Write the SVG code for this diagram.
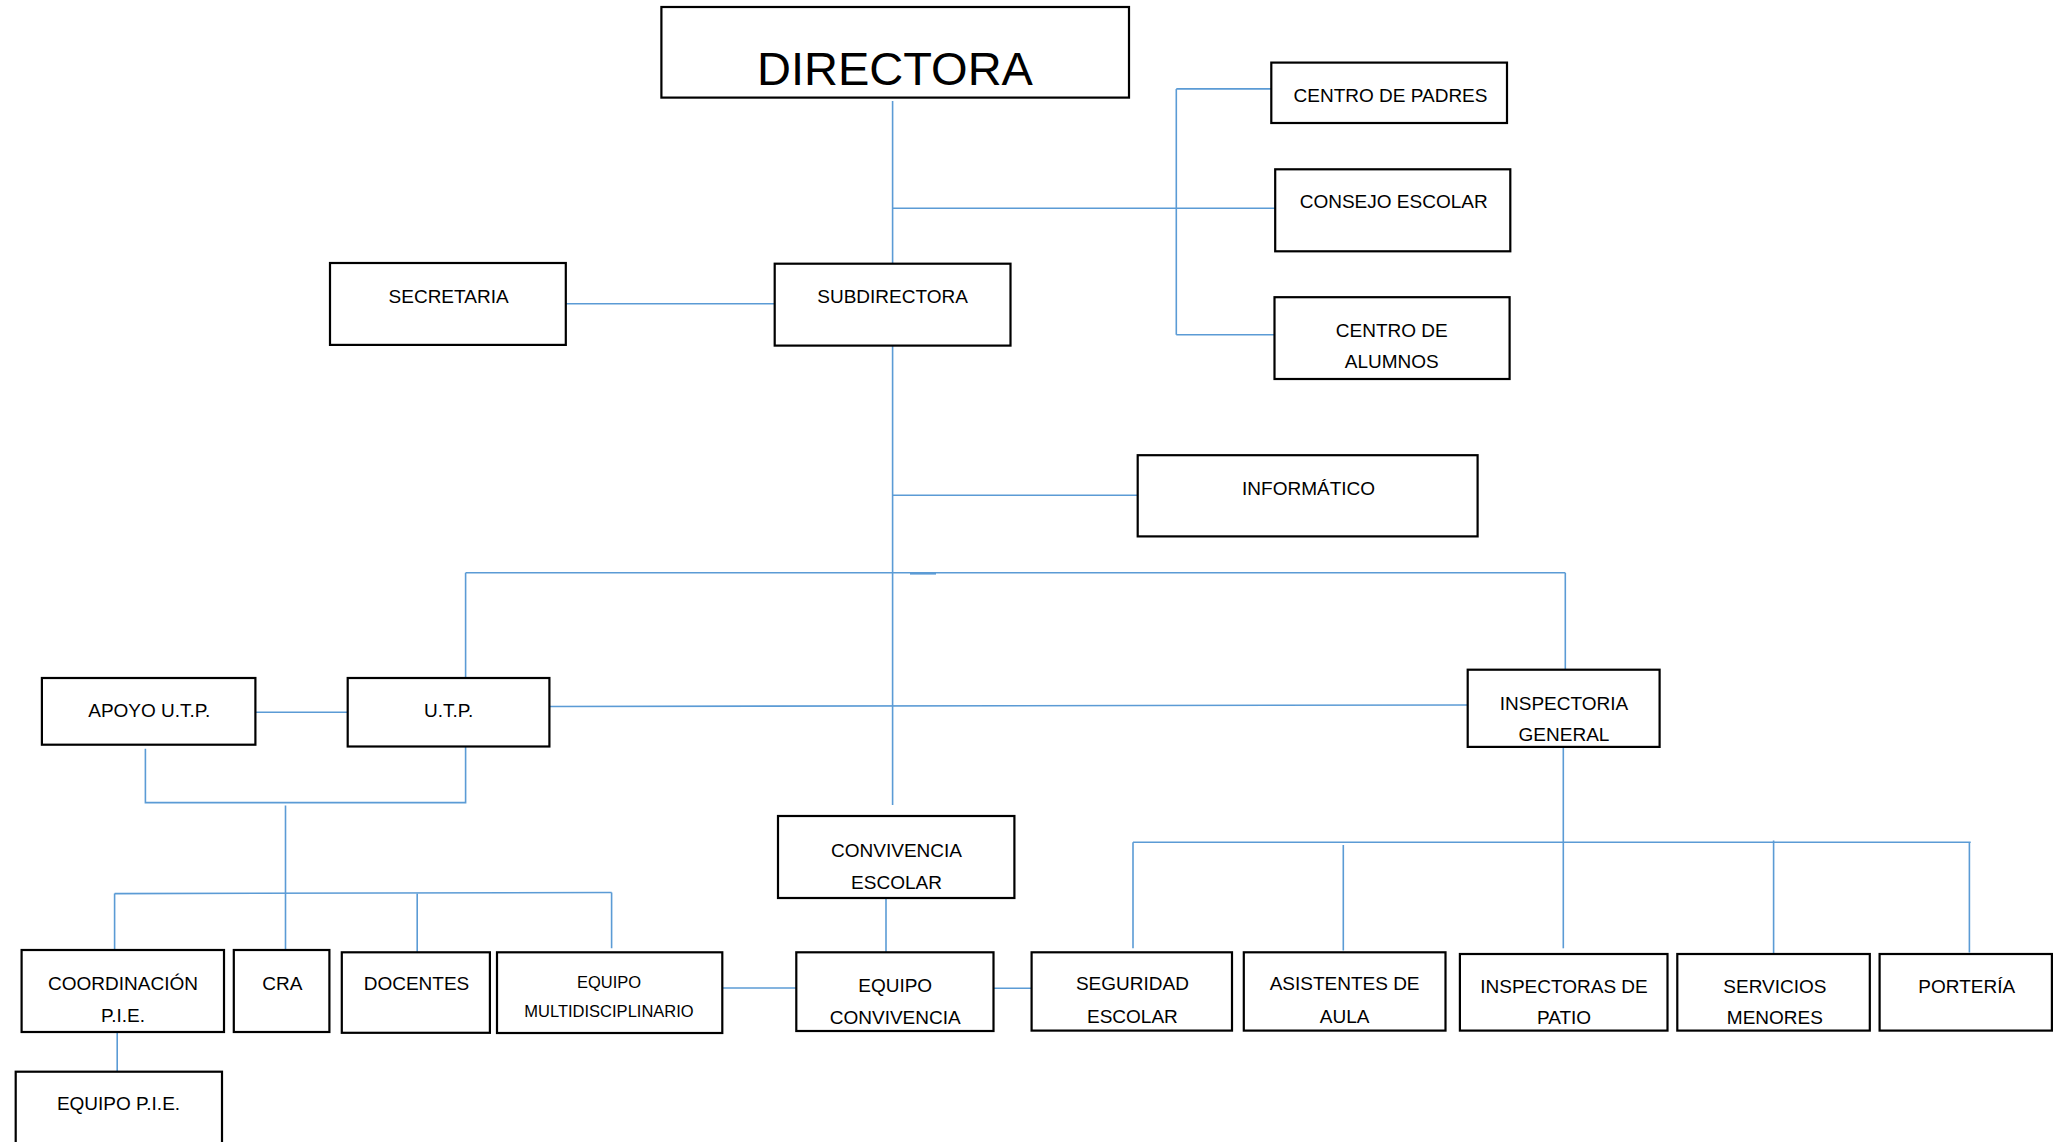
<svg xmlns="http://www.w3.org/2000/svg" width="2054" height="1142" viewBox="0 0 2054 1142">
<style>
.box{fill:#fff;stroke:#000;stroke-width:2.2}
.t{font-family:"Liberation Sans",Arial,sans-serif;font-size:19px;fill:#000;text-anchor:middle}
.s{font-size:16.5px}
.big{font-size:47px}
.c{stroke:#5B9BD5;stroke-width:1.6;fill:none}
</style>
<rect width="2054" height="1142" fill="#fff"/>
<g id="connectors" class="c">
<path d="M892.6 101V264"/>
<path d="M892.6 208.3H1275"/>
<path d="M1176.3 88.9V334.7M1176.3 88.9H1271M1176.3 334.7H1274.5"/>
<path d="M566 303.7H775"/>
<path d="M892.6 346V805"/>
<path d="M892.6 495.3H1138"/>
<path d="M465.6 572.8H1565.3"/>
<path d="M910 573.8H936"/>
<path d="M465.6 572.8V678"/>
<path d="M1565.3 572.8V669.7"/>
<path d="M255.4 712.3H347.7"/>
<path d="M549.4 706.5L1467.7 705"/>
<path d="M145.4 748.7V802.6H465.6V746.5"/>
<path d="M285.5 805.5V893.6"/>
<path d="M114.6 893.6L611.6 892.5"/>
<path d="M114.6 893.6V950M285.5 893.6V950M417.2 893.6V952M611.6 892.5V948.3"/>
<path d="M117.2 1033V1071.7"/>
<path d="M722.3 988H796.3"/>
<path d="M886 898V952"/>
<path d="M993.5 988.3H1031.6"/>
<path d="M1563.3 747V948.3"/>
<path d="M1133 842.3H1970.7"/>
<path d="M1133 842.3V948.3M1343.3 844.9V950.5M1773.6 840.5V953.4M1969.4 842.3V952.6"/>
</g>
<g id="directora"><rect class="box" x="661.4" y="7" width="467.6" height="90.6"/><text class="t big" x="895" y="84.5">DIRECTORA</text></g>
<g id="centro-padres"><rect class="box" x="1271.3" y="62.6" width="235.7" height="60.4"/><text class="t" x="1390.5" y="102">CENTRO DE PADRES</text></g>
<g id="consejo-escolar"><rect class="box" x="1275.2" y="169.3" width="235.1" height="82"/><text class="t" x="1393.7" y="207.6">CONSEJO ESCOLAR</text></g>
<g id="centro-alumnos"><rect class="box" x="1274.5" y="297.2" width="235.1" height="81.8"/><text class="t" x="1391.8" y="336.9">CENTRO DE</text><text class="t" x="1391.8" y="367.8">ALUMNOS</text></g>
<g id="secretaria"><rect class="box" x="330" y="263" width="235.8" height="81.9"/><text class="t" x="448.6" y="303">SECRETARIA</text></g>
<g id="subdirectora"><rect class="box" x="774.7" y="263.7" width="235.8" height="81.9"/><text class="t" x="892.6" y="303">SUBDIRECTORA</text></g>
<g id="informatico"><rect class="box" x="1137.7" y="455.2" width="339.9" height="81.2"/><text class="t" x="1308.6" y="494.5">INFORMÁTICO</text></g>
<g id="apoyo-utp"><rect class="box" x="41.9" y="678" width="213.5" height="66.7"/><text class="t" x="149.3" y="717.4">APOYO U.T.P.</text></g>
<g id="utp"><rect class="box" x="347.7" y="678" width="201.7" height="68.5"/><text class="t" x="448.6" y="717.4">U.T.P.</text></g>
<g id="inspectoria-general"><rect class="box" x="1467.7" y="669.7" width="191.9" height="77.2"/><text class="t" x="1564" y="710">INSPECTORIA</text><text class="t" x="1564" y="741.4">GENERAL</text></g>
<g id="convivencia-escolar"><rect class="box" x="778" y="816" width="236.4" height="82"/><text class="t" x="896.5" y="856.9">CONVIVENCIA</text><text class="t" x="896.5" y="888.6">ESCOLAR</text></g>
<g id="coordinacion-pie"><rect class="box" x="21.6" y="950" width="202.4" height="82"/><text class="t" x="123" y="989.8">COORDINACIÓN</text><text class="t" x="123" y="1021.5">P.I.E.</text></g>
<g id="cra"><rect class="box" x="233.8" y="950" width="95.6" height="82"/><text class="t" x="282.3" y="990">CRA</text></g>
<g id="docentes"><rect class="box" x="341.8" y="952.3" width="148.1" height="80.5"/><text class="t" x="416.5" y="990">DOCENTES</text></g>
<g id="equipo-multi"><rect class="box" x="497" y="952.3" width="225.3" height="80.7"/><text class="t s" x="609" y="988">EQUIPO</text><text class="t s" x="609" y="1017">MULTIDISCIPLINARIO</text></g>
<g id="equipo-convivencia"><rect class="box" x="796.3" y="952.3" width="197.2" height="78.7"/><text class="t" x="895.2" y="991.6">EQUIPO</text><text class="t" x="895.2" y="1024.4">CONVIVENCIA</text></g>
<g id="seguridad-escolar"><rect class="box" x="1031.6" y="952.3" width="200.4" height="78.3"/><text class="t" x="1132.4" y="989.8">SEGURIDAD</text><text class="t" x="1132.4" y="1022.6">ESCOLAR</text></g>
<g id="asistentes-aula"><rect class="box" x="1243.8" y="952.3" width="201.7" height="78.3"/><text class="t" x="1344.6" y="989.8">ASISTENTES DE</text><text class="t" x="1344.6" y="1022.6">AULA</text></g>
<g id="inspectoras-patio"><rect class="box" x="1459.9" y="954" width="207.6" height="76.6"/><text class="t" x="1564" y="993.4">INSPECTORAS DE</text><text class="t" x="1564" y="1024.4">PATIO</text></g>
<g id="servicios-menores"><rect class="box" x="1677.3" y="954" width="192.5" height="76.6"/><text class="t" x="1774.9" y="993.4">SERVICIOS</text><text class="t" x="1774.9" y="1024.4">MENORES</text></g>
<g id="porteria"><rect class="box" x="1879.6" y="954" width="172.3" height="76.6"/><text class="t" x="1966.7" y="993.4">PORTERÍA</text></g>
<g id="equipo-pie"><rect class="box" x="15.7" y="1071.7" width="206.3" height="90"/><text class="t" x="118.5" y="1110">EQUIPO P.I.E.</text></g>
</svg>
